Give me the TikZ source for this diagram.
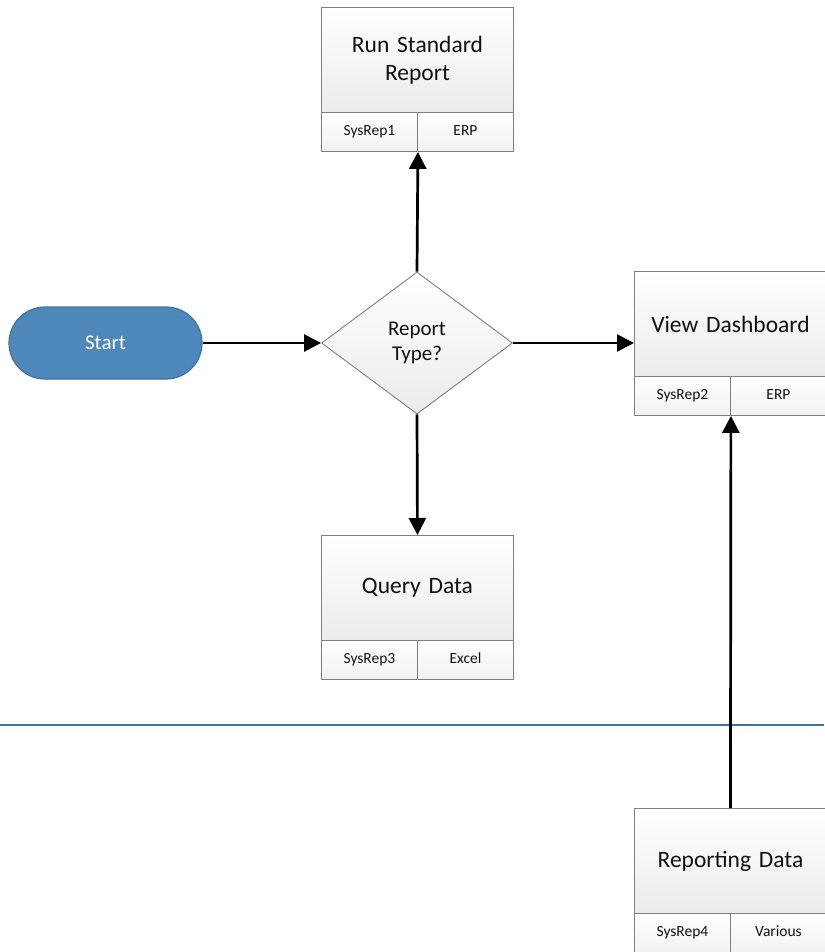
\documentclass[tikz,border=0pt]{standalone}
\usepackage{fontspec}
\setmainfont{Carlito}
\usetikzlibrary{shapes.geometric,arrows.meta}
\definecolor{startblue}{HTML}{4E88BB}
\definecolor{startedge}{HTML}{41719C}
\definecolor{laneblue}{HTML}{41719C}
\definecolor{boxedge}{HTML}{7F7F7F}
\definecolor{boxlow}{HTML}{EBEBEB}
\definecolor{txt}{HTML}{111111}
\begin{document}
\begin{tikzpicture}[x=1pt,y=-1pt,
  procbox/.style={draw=boxedge, line width=0.9pt, top color=white, bottom color=boxlow,
    minimum width=192pt, minimum height=105pt, inner sep=0pt, anchor=north west,
    align=center, text width=185pt, text=txt, font=\fontsize{23.5}{28}\selectfont},
  cell/.style={draw=boxedge, line width=0.9pt, top color=white, bottom color=boxlow!70,
    minimum width=96pt, minimum height=39pt, inner sep=0pt, anchor=north west,
    text height=11pt, text depth=3.5pt,
    text=txt, font=\fontsize{15.5}{18}\selectfont},
  decision/.style={diamond, draw=boxedge, line width=0.9pt, top color=white, bottom color=boxlow,
    minimum width=191pt, minimum height=142pt, inner sep=0pt, aspect=1.345,
    align=center, text=txt, font=\fontsize{21}{25}\selectfont},
  terminal/.style={rectangle, rounded corners=36pt, draw=startedge, line width=1.2pt, fill=startblue,
    minimum width=193pt, minimum height=72pt, inner sep=0pt, text=white,
    font=\fontsize{21}{25}\selectfont},
  conn/.style={draw=black, line width=2.7pt, -{Triangle[length=17pt,width=17pt]}}
]
\useasboundingbox (0,0) rectangle (824,952);

% swimlane separator
\coordinate (laneL) at (0,725);
\coordinate (laneR) at (824,725);
\draw[laneblue, line width=2.2pt] (laneL) -- (laneR);

% start
\node[terminal] (start) at (105.5,343) {Start};

% decision
\node[decision] (dia) at (417,343) {Report\\Type?};

% Run Standard Report
\node[procbox] (rsr) at (321,7) {Run Standard\\Report};
\node[cell] (rsr1) at (321,112) {SysRep1};
\node[cell] (rsr2) at (417,112) {ERP};

% View Dashboard
\node[procbox] (vd) at (634,271) {View Dashboard};
\node[cell] (vd1) at (634,376) {SysRep2};
\node[cell] (vd2) at (730,376) {ERP};

% Query Data
\node[procbox] (qd) at (321,535) {Query Data};
\node[cell] (qd1) at (321,640) {SysRep3};
\node[cell] (qd2) at (417,640) {Excel};

% Reporting Data
\node[procbox] (rd) at (634,808) {Reporting Data};
\node[cell] (rd1) at (634,913) {SysRep4};
\node[cell] (rd2) at (730,913) {Various};

% connectors
\draw[conn] (start.east) -- (dia.west);
\draw[conn] (dia.north) -- (rsr1.south east);
\draw[conn] (dia.east) -- (dia.east -| vd.west);
\draw[conn] (dia.south) -- (qd.north);
\draw[conn] (rd.north) -- (vd1.south east);
\end{tikzpicture}
\end{document}
